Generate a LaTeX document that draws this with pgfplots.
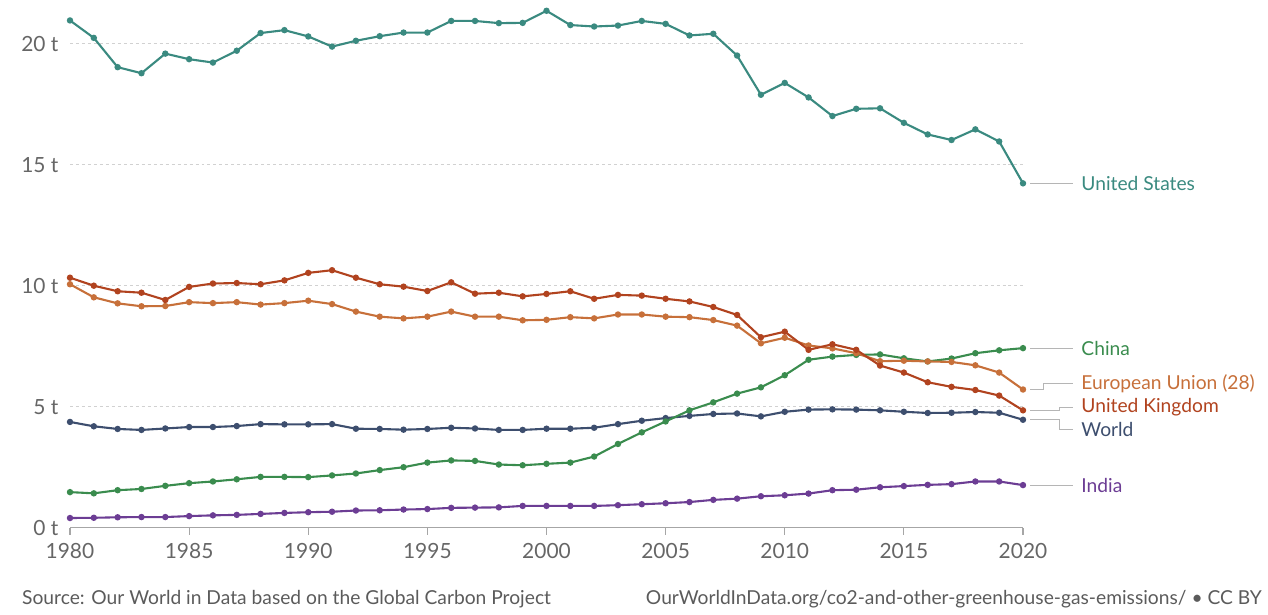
\documentclass[border=0pt]{standalone}
\usepackage{fontspec}
\setmainfont{Lato}
\usepackage{pgfplots}
\pgfplotsset{compat=1.18}
\definecolor{cUS}{HTML}{3A8A80}
\definecolor{cCN}{HTML}{3A8C4E}
\definecolor{cEU}{HTML}{C7703A}
\definecolor{cUK}{HTML}{B1431F}
\definecolor{cWD}{HTML}{3D4E6E}
\definecolor{cIN}{HTML}{6C3D94}
\definecolor{ctick}{HTML}{666666}
\definecolor{cfoot}{HTML}{5B5B5B}
\definecolor{cconn}{HTML}{B5B5B5}
\begin{document}
\begin{tikzpicture}
\path[use as bounding box] (-70bp,-87.3bp) rectangle (1198bp,527.7bp);
\begin{axis}[
  at={(0,0)}, anchor=south west,
  scale only axis, width=953bp, height=520.3bp,
  xmin=1980, xmax=2020, ymin=0, ymax=21.5,
  enlargelimits=false, clip=false,
  axis x line*=bottom, axis y line*=left,
  y axis line style={draw=none},
  x axis line style={draw=black!35, line width=1.2bp},
  xtick={1980,1985,...,2020},
  xticklabel style={/pgf/number format/1000 sep={}, font=\fontsize{21}{25}\selectfont, text=ctick, yshift=-5bp},
  xtick style={draw=black!35, line width=1.2bp},
  tick align=outside, major tick length=7bp,
  ytick={0,5,10,15,20},
  yticklabel={\pgfmathprintnumber{\tick} t},
  yticklabel style={font=\fontsize{21}{25}\selectfont, text=ctick, xshift=-1bp},
  ytick style={draw=none},
  /pgf/number format/assume math mode=true,
  ymajorgrids, grid style={dashed, black!18, line width=0.9bp},
  every axis plot/.append style={line width=2.1bp, mark=*, mark size=2.1bp},
]
\addplot[cWD, mark options={fill=cWD}] table {
x y
1980 4.37
1981 4.19
1982 4.08
1983 4.04
1984 4.10
1985 4.16
1986 4.16
1987 4.20
1988 4.28
1989 4.27
1990 4.27
1991 4.28
1992 4.09
1993 4.08
1994 4.05
1995 4.08
1996 4.13
1997 4.10
1998 4.04
1999 4.04
2000 4.09
2001 4.09
2002 4.13
2003 4.28
2004 4.42
2005 4.53
2006 4.62
2007 4.70
2008 4.72
2009 4.60
2010 4.79
2011 4.88
2012 4.89
2013 4.88
2014 4.85
2015 4.79
2016 4.74
2017 4.75
2018 4.78
2019 4.75
2020 4.46
};
\addplot[cIN, mark options={fill=cIN}] table {
x y
1980 0.40
1981 0.41
1982 0.43
1983 0.44
1984 0.44
1985 0.48
1986 0.51
1987 0.53
1988 0.57
1989 0.61
1990 0.64
1991 0.66
1992 0.71
1993 0.72
1994 0.75
1995 0.77
1996 0.82
1997 0.83
1998 0.84
1999 0.90
2000 0.90
2001 0.90
2002 0.90
2003 0.93
2004 0.97
2005 1.01
2006 1.06
2007 1.15
2008 1.20
2009 1.30
2010 1.34
2011 1.41
2012 1.55
2013 1.57
2014 1.67
2015 1.72
2016 1.77
2017 1.80
2018 1.91
2019 1.91
2020 1.76
};
\addplot[cCN, mark options={fill=cCN}] table {
x y
1980 1.47
1981 1.42
1982 1.55
1983 1.60
1984 1.73
1985 1.84
1986 1.91
1987 2.00
1988 2.10
1989 2.10
1990 2.09
1991 2.16
1992 2.24
1993 2.38
1994 2.50
1995 2.69
1996 2.78
1997 2.76
1998 2.61
1999 2.58
2000 2.64
2001 2.69
2002 2.94
2003 3.46
2004 3.94
2005 4.39
2006 4.85
2007 5.18
2008 5.54
2009 5.80
2010 6.30
2011 6.94
2012 7.07
2013 7.14
2014 7.16
2015 7.00
2016 6.87
2017 6.99
2018 7.21
2019 7.33
2020 7.42
};
\addplot[cEU, mark options={fill=cEU}] table {
x y
1980 10.06
1981 9.52
1982 9.27
1983 9.15
1984 9.16
1985 9.32
1986 9.28
1987 9.32
1988 9.22
1989 9.28
1990 9.38
1991 9.24
1992 8.93
1993 8.72
1994 8.65
1995 8.72
1996 8.93
1997 8.72
1998 8.72
1999 8.57
2000 8.59
2001 8.70
2002 8.65
2003 8.81
2004 8.81
2005 8.72
2006 8.70
2007 8.58
2008 8.35
2009 7.62
2010 7.85
2011 7.53
2012 7.41
2013 7.21
2014 6.88
2015 6.90
2016 6.87
2017 6.85
2018 6.71
2019 6.41
2020 5.71
};
\addplot[cUK, mark options={fill=cUK}] table {
x y
1980 10.33
1981 10.00
1982 9.77
1983 9.71
1984 9.41
1985 9.95
1986 10.09
1987 10.11
1988 10.06
1989 10.22
1990 10.53
1991 10.64
1992 10.33
1993 10.06
1994 9.96
1995 9.78
1996 10.14
1997 9.67
1998 9.71
1999 9.56
2000 9.66
2001 9.77
2002 9.46
2003 9.62
2004 9.59
2005 9.46
2006 9.35
2007 9.12
2008 8.79
2009 7.87
2010 8.10
2011 7.35
2012 7.58
2013 7.35
2014 6.70
2015 6.41
2016 6.01
2017 5.82
2018 5.69
2019 5.46
2020 4.85
};
\addplot[cUS, mark options={fill=cUS}] table {
x y
1980 20.96
1981 20.24
1982 19.03
1983 18.78
1984 19.59
1985 19.36
1986 19.22
1987 19.71
1988 20.44
1989 20.56
1990 20.30
1991 19.88
1992 20.12
1993 20.31
1994 20.46
1995 20.46
1996 20.94
1997 20.94
1998 20.85
1999 20.86
2000 21.36
2001 20.77
2002 20.71
2003 20.75
2004 20.94
2005 20.82
2006 20.34
2007 20.41
2008 19.51
2009 17.89
2010 18.38
2011 17.78
2012 17.01
2013 17.31
2014 17.33
2015 16.73
2016 16.25
2017 16.02
2018 16.46
2019 15.96
2020 14.23
};
\coordinate (pUS) at (axis cs:2020,14.23);
\coordinate (pCN) at (axis cs:2020,7.42);
\coordinate (pEU) at (axis cs:2020,5.71);
\coordinate (pUK) at (axis cs:2020,4.85);
\coordinate (pWD) at (axis cs:2020,4.46);
\coordinate (pIN) at (axis cs:2020,1.76);
\end{axis}
\tikzset{lab/.style={right, inner sep=0pt, xshift=8bp, font=\fontsize{19.3}{23}\selectfont},
  conn/.style={cconn, line width=0.9bp}}
\draw[conn] ([xshift=7bp]pUS) -- ++(43bp,0) node[lab, text=cUS]{United States};
\draw[conn] ([xshift=7bp]pCN) -- ++(43bp,0) node[lab, text=cCN]{China};
\draw[conn] ([xshift=7bp]pEU) -- ++(13bp,0) -- ++(0,5.7bp) -- ++(30bp,0) node[lab, text=cEU]{European Union (28)};
\draw[conn] ([xshift=7bp]pUK) -- ++(29bp,0) -- ++(0,3bp) -- ++(14bp,0) node[lab, text=cUK]{United Kingdom};
\draw[conn] ([xshift=7bp]pWD) -- ++(29bp,0) -- ++(0,-9.3bp) -- ++(14bp,0) node[lab, text=cWD]{World};
\draw[conn] ([xshift=7bp]pIN) -- ++(43bp,0) node[lab, text=cIN]{India};
\node[anchor=base west, inner sep=0pt, text=cfoot, font=\fontsize{19.3}{23}\selectfont] at (-48bp,-76.3bp) {Source: Our World in Data based on the Global Carbon Project};
\node[anchor=base east, inner sep=0pt, text=cfoot, font=\fontsize{19.3}{23}\selectfont] at (1192bp,-76.3bp) {OurWorldInData.org/co2-and-other-greenhouse-gas-emissions/ • CC BY};
\end{tikzpicture}
\end{document}
